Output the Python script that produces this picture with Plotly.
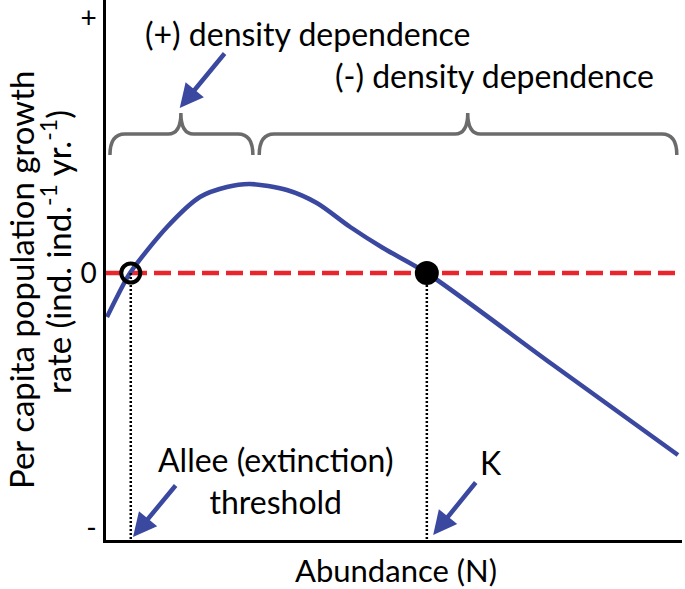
import plotly.graph_objects as go

# growth-rate curve (abundance 0-100, rate in arbitrary units)
abundance = [0.17, 2.08, 4.17, 10.6, 16.3, 21.0, 25.0, 31.4, 36.6, 42.4, 48.1, 55.7, 77.4, 99.3]
growth_rate = [-0.44, -0.22, 0.0, 0.46, 0.76, 0.86, 0.89, 0.83, 0.70, 0.46, 0.25, 0.0, -0.91, -1.82]

# equilibria
allee_n = 4.3
k_n = 55.7

# braces above the curve: (start, tip, end)
brace_spans = [(0.69, 13.0, 25.5), (26.6, 62.8, 99.1)]

y_ticks = [2.55, 0, -2.55]
y_tick_text = ["+", "0", "-"]

FONT = "Lato, sans-serif"
BLUE = "#3a48a0"
GREY = "#6b6b6b"
Y_MIN, Y_MAX = -2.67, 2.73
PLOT_W, PLOT_H = 576, 540

fig = go.Figure()

# zero line
fig.add_trace(
    go.Scatter(
        x=[0, 100], y=[0, 0], mode="lines",
        line=dict(color="#e8262c", width=4.5, dash="17px,7px"),
        hoverinfo="skip",
    )
)

# growth curve
fig.add_trace(
    go.Scatter(
        x=abundance, y=growth_rate, mode="lines",
        line=dict(color=BLUE, width=4.5, shape="spline", smoothing=0.8),
        hoverinfo="skip",
    )
)

# dotted drop lines
for n in [allee_n, k_n]:
    fig.add_trace(
        go.Scatter(
            x=[n, n], y=[0, Y_MIN], mode="lines",
            line=dict(color="black", width=2.5, dash="2px,2px"),
            hoverinfo="skip",
        )
    )

# equilibrium points
fig.add_trace(
    go.Scatter(
        x=[allee_n], y=[0], mode="markers",
        marker=dict(symbol="circle-open", size=19, color="black", line=dict(width=4)),
        hoverinfo="skip",
    )
)
fig.add_trace(
    go.Scatter(
        x=[k_n], y=[0], mode="markers",
        marker=dict(symbol="circle", size=24, color="black"),
        hoverinfo="skip",
    )
)


def brace_path(x0, tip, x1, y_end=1.18, y_mid=1.39, y_tip=1.60, r=2.6, rt=2.2):
    return (
        f"M{x0},{y_end} Q{x0},{y_mid} {x0 + r},{y_mid} "
        f"L{tip - rt},{y_mid} Q{tip},{y_mid} {tip},{y_tip} "
        f"Q{tip},{y_mid} {tip + rt},{y_mid} "
        f"L{x1 - r},{y_mid} Q{x1},{y_mid} {x1},{y_end}"
    )


for x0, tip, x1 in brace_spans:
    fig.add_shape(
        type="path", path=brace_path(x0, tip, x1),
        line=dict(color=GREY, width=3.5), xref="x", yref="y",
    )

arrow_style = dict(
    showarrow=True, arrowhead=2, arrowsize=1.05, arrowwidth=4.5,
    arrowcolor=BLUE, axref="x", ayref="y", text="",
)
fig.add_annotation(x=12.8, y=1.65, ax=20.8, ay=2.21, **arrow_style)
fig.add_annotation(x=4.69, y=-2.64, ax=12.3, ay=-2.11, **arrow_style)
fig.add_annotation(x=56.8, y=-2.62, ax=64.4, ay=-2.08, **arrow_style)

text_font = dict(family=FONT, size=32, color="black")
fig.add_annotation(x=35.1, y=2.40, text="(+) density dependence", showarrow=False, font=text_font)
fig.add_annotation(x=67.5, y=1.98, text="(-) density dependence", showarrow=False, font=text_font)
fig.add_annotation(x=29.5, y=-2.07, text="Allee (extinction)<br>threshold", showarrow=False, font=text_font)
fig.add_annotation(x=66.8, y=-1.89, text="K", showarrow=False, font=text_font)

# x axis title
fig.add_annotation(
    xref="paper", yref="paper", x=(396 - 106) / PLOT_W, y=-(570 - 540) / PLOT_H,
    text="Abundance (N)", showarrow=False, font=dict(family=FONT, size=31, color="black"),
    xanchor="center", yanchor="middle",
)

# y axis title, two rotated lines
y_title_font = dict(family=FONT, size=33, color="black")
fig.add_annotation(
    xref="paper", yref="paper", x=-(106 - 21) / PLOT_W, y=(540 - 280) / PLOT_H,
    text="Per capita population growth", textangle=-90, showarrow=False,
    font=y_title_font, xanchor="center", yanchor="middle",
)
fig.add_annotation(
    xref="paper", yref="paper", x=-(106 - 56) / PLOT_W, y=(540 - 252) / PLOT_H,
    text="rate (ind. ind.<sup>-1</sup> yr.<sup>-1</sup>)", textangle=-90, showarrow=False,
    font=y_title_font, xanchor="center", yanchor="middle",
)

fig.update_layout(
    width=685, height=589,
    margin=dict(l=106, r=3, t=0, b=49, autoexpand=False),
    paper_bgcolor="white", plot_bgcolor="white",
    showlegend=False,
    font=dict(family=FONT, color="black"),
)
fig.update_xaxes(
    range=[0, 100], showgrid=False, zeroline=False, showticklabels=False,
    showline=True, linecolor="black", linewidth=2.5, automargin=False,
)
fig.update_yaxes(
    range=[Y_MIN, Y_MAX], showgrid=False, zeroline=False,
    showline=True, linecolor="black", linewidth=2.5, automargin=False,
    tickvals=y_ticks, ticktext=y_tick_text, ticks="", ticklabeloverflow="allow",
    tickfont=dict(family=FONT, size=28, color="black"), ticklabelstandoff=1,
)

# drop the page's default body margin so the figure sits at the window corner
fig.write_html(
    "out.html",
    config={"displayModeBar": False},
    post_script="document.body.style.margin = '0';",
)
